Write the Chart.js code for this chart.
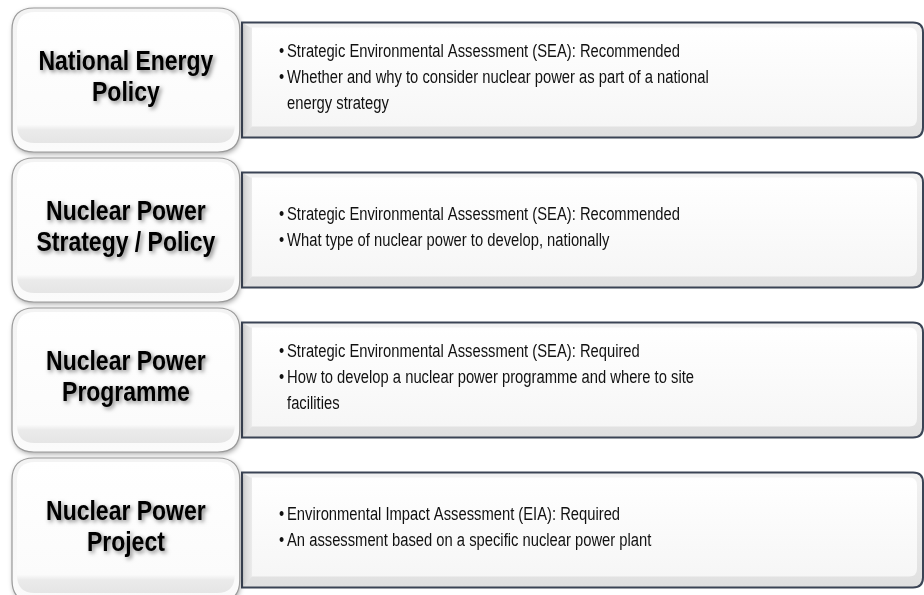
<!DOCTYPE html>
<html>
<head>
<meta charset="utf-8">
<script src="https://cdn.jsdelivr.net/npm/chart.js@4.4.1/dist/chart.umd.min.js"></script>
<style>
  html, body { margin: 0; padding: 0; background: #fff; }
  #wrap { width: 924px; height: 595px; }
</style>
</head>
<body>
<div id="wrap"><canvas id="chart" width="924" height="595"></canvas></div>
<script>
// stage titles (left boxes), one entry per row, already broken into lines
const stages = [
  ['National Energy', 'Policy'],
  ['Nuclear Power', 'Strategy / Policy'],
  ['Nuclear Power', 'Programme'],
  ['Nuclear Power', 'Project'],
];
// first bullet of each row
const assessments = [
  'Strategic Environmental Assessment (SEA): Recommended',
  'Strategic Environmental Assessment (SEA): Recommended',
  'Strategic Environmental Assessment (SEA): Required',
  'Environmental Impact Assessment (EIA): Required',
];
// second bullet, wrapped like the picture
const scopes = [
  ['Whether and why to consider nuclear power as part of a national', 'energy strategy'],
  ['What type of nuclear power to develop, nationally'],
  ['How to develop a nuclear power programme and where to site', 'facilities'],
  ['An assessment based on a specific nuclear power plant'],
];
// floating bar extents on the x scale (0..4)
const stageBars = [[0, 1], [0, 1], [0, 1], [0, 1]];
const detailBars = [[1.01, 4], [1.01, 4], [1.01, 4], [1.01, 4]];

const NARROW = 0.82;
const FONT = '"Liberation Sans", Arial, sans-serif';

function roundRect(ctx, x, y, w, h, r) {
  // r = [tl, tr, br, bl]
  if (!Array.isArray(r)) r = [r, r, r, r];
  ctx.beginPath();
  ctx.moveTo(x + r[0], y);
  ctx.lineTo(x + w - r[1], y);
  ctx.quadraticCurveTo(x + w, y, x + w, y + r[1]);
  ctx.lineTo(x + w, y + h - r[2]);
  ctx.quadraticCurveTo(x + w, y + h, x + w - r[2], y + h);
  ctx.lineTo(x + r[3], y + h);
  ctx.quadraticCurveTo(x, y + h, x, y + h - r[3]);
  ctx.lineTo(x, y + r[0]);
  ctx.quadraticCurveTo(x, y, x + r[0], y);
  ctx.closePath();
}

function narrowText(ctx, str, x, y, align) {
  ctx.save();
  ctx.translate(x, y);
  ctx.scale(NARROW, 1);
  ctx.textAlign = align;
  ctx.fillText(str, 0, 0);
  ctx.restore();
}

function drawStage(ctx, bar, i) {
  const p = bar.getProps(['x', 'y', 'base', 'height'], true);
  const l = p.base, r = p.x, t = p.y - p.height / 2, b = p.y + p.height / 2;
  ctx.save();
  ctx.shadowColor = 'rgba(0,0,0,0.35)';
  ctx.shadowBlur = 5;
  ctx.shadowOffsetX = 1;
  ctx.shadowOffsetY = 2;
  roundRect(ctx, l, t, r - l, b - t, 22);
  let g = ctx.createLinearGradient(0, t, 0, b);
  g.addColorStop(0, '#f3f3f3');
  g.addColorStop(1, '#fbfbfb');
  ctx.fillStyle = g;
  ctx.fill();
  ctx.shadowColor = 'transparent';
  ctx.lineWidth = 1.2;
  ctx.strokeStyle = '#9a9a9a';
  ctx.stroke();

  // inner glossy panel with grey band at the bottom
  roundRect(ctx, l + 5, t + 4, r - l - 10, b - t - 13, 18);
  g = ctx.createLinearGradient(0, t + 4, 0, b - 9);
  g.addColorStop(0, '#ffffff');
  g.addColorStop(0.86, '#fbfbfb');
  g.addColorStop(0.9, '#ebebeb');
  g.addColorStop(1, '#e5e5e5');
  ctx.fillStyle = g;
  ctx.fill();

  // title
  ctx.font = 'bold 28px ' + FONT;
  ctx.fillStyle = '#000';
  ctx.textBaseline = 'middle';
  ctx.shadowColor = 'rgba(0,0,0,0.5)';
  ctx.shadowBlur = 4;
  ctx.shadowOffsetX = 2;
  ctx.shadowOffsetY = 2;
  const lines = stages[i];
  const lh = 31;
  const cx = (l + r) / 2;
  const top = p.y - 2 - (lines.length - 1) * lh / 2;
  lines.forEach((s, k) => narrowText(ctx, s, cx, top + k * lh, 'center'));
  ctx.restore();
}

function drawDetail(ctx, bar, i) {
  const p = bar.getProps(['x', 'y', 'base', 'height'], true);
  const l = p.base, r = p.x, t = p.y - p.height / 2, b = p.y + p.height / 2;
  ctx.save();
  // bevel colour underneath
  roundRect(ctx, l, t, r - l, b - t, [0, 10, 10, 0]);
  let g = ctx.createLinearGradient(0, t, 0, b);
  g.addColorStop(0, '#f2f2f2');
  g.addColorStop(1, '#e0e0e0');
  ctx.fillStyle = g;
  ctx.fill();
  // darker left bevel
  ctx.beginPath();
  ctx.moveTo(l, t);
  ctx.lineTo(l + 10, t + 6);
  ctx.lineTo(l + 10, b - 11);
  ctx.lineTo(l, b);
  ctx.closePath();
  g = ctx.createLinearGradient(l, 0, l + 10, 0);
  g.addColorStop(0, '#cfcfcf');
  g.addColorStop(1, '#ececec');
  ctx.fillStyle = g;
  ctx.fill();
  // inner face
  roundRect(ctx, l + 10, t + 5, r - l - 16, b - t - 16, [0, 8, 8, 0]);
  g = ctx.createLinearGradient(0, t + 5, 0, b - 11);
  g.addColorStop(0, '#ffffff');
  g.addColorStop(1, '#f6f6f6');
  ctx.fillStyle = g;
  ctx.fill();
  // border
  roundRect(ctx, l, t, r - l, b - t, [0, 10, 10, 0]);
  ctx.lineWidth = 2;
  ctx.strokeStyle = '#3b4455';
  ctx.stroke();

  // bullets
  ctx.font = '18px ' + FONT;
  ctx.fillStyle = '#111';
  ctx.textBaseline = 'middle';
  const rows = [[assessments[i], true]];
  scopes[i].forEach((s, k) => rows.push([s, k === 0]));
  const lh = 26;
  const top = p.y - 2 - (rows.length - 1) * lh / 2;
  const tx = l + 45;
  rows.forEach((row, k) => {
    const yy = top + k * lh;
    if (row[1]) narrowText(ctx, '\u2022', tx - 8, yy, 'left');
    narrowText(ctx, row[0], tx, yy, 'left');
  });
  ctx.restore();
}

const boxes = {
  id: 'boxes',
  afterDatasetsDraw(chart) {
    const ctx = chart.ctx;
    chart.getDatasetMeta(1).data.forEach((bar, i) => drawDetail(ctx, bar, i));
    chart.getDatasetMeta(0).data.forEach((bar, i) => drawStage(ctx, bar, i));
  }
};

new Chart(document.getElementById('chart').getContext('2d'), {
  type: 'bar',
  data: {
    datasets: [{
      label: 'stage',
      data: stageBars.map((v, i) => ({ x: v, y: i })),
      backgroundColor: 'rgba(0,0,0,0)',
      barThickness: 144,
    }, {
      label: 'assessment',
      data: detailBars.map((v, i) => ({ x: v, y: i })),
      backgroundColor: 'rgba(0,0,0,0)',
      barThickness: 115,
    }]
  },
  plugins: [boxes],
  options: {
    indexAxis: 'y',
    responsive: false,
    animation: false,
    devicePixelRatio: 1,
    layout: { padding: { left: 12, right: 1, top: 0, bottom: 0 } },
    datasets: { bar: { grouped: false } },
    plugins: { legend: { display: false }, tooltip: { enabled: false } },
    scales: {
      x: { type: 'linear', min: 0, max: 4, display: false },
      y: { type: 'linear', reverse: true, offset: false, min: -0.5333, max: 3.4333, display: false },
    }
  }
});
</script>
</body>
</html>
